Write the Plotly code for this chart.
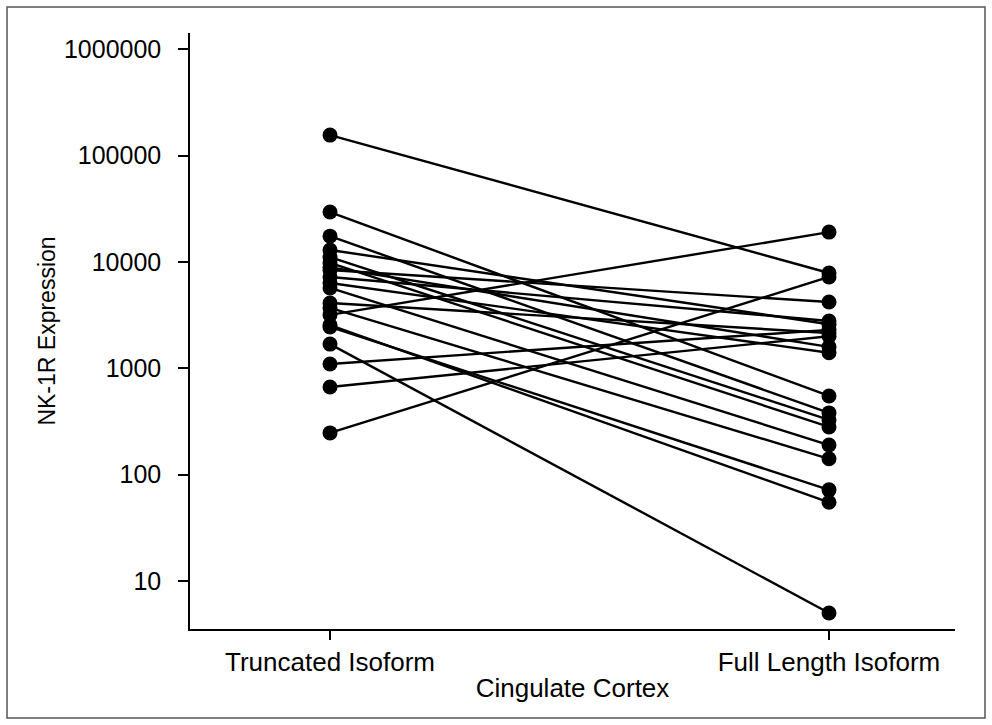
import plotly.graph_objects as go

categories = ["Truncated Isoform", "Full Length Isoform"]

truncated = [156000, 29500, 17500, 12970, 11100, 9800, 8410, 8900, 7230, 6350,
             5700, 4120, 3700, 3180, 2450, 2550, 1690, 1100, 668, 247]
full_length = [7880, 550, 381, 2600, 327, 281, 4200, 1590, 2790, 1400,
               190, 2150, 141, 19100, 72, 55, 5.0, 2300, 2000, 7230]

y_tickvals = [10, 100, 1000, 10000, 100000, 1000000]
y_ticktext = ["10", "100", "1000", "10000", "100000", "1000000"]

FONT = "Liberation Sans, Arial, sans-serif"

fig = go.Figure()
for a, b in zip(truncated, full_length):
    fig.add_trace(go.Scatter(
        x=categories, y=[a, b], mode="lines+markers",
        line=dict(color="black", width=2.4),
        marker=dict(color="black", size=15),
        showlegend=False, hoverinfo="y",
    ))

fig.update_layout(
    width=992, height=725,
    margin=dict(l=190, r=37, t=33, b=96),
    paper_bgcolor="white", plot_bgcolor="white",
    font=dict(family=FONT, color="black", size=25),
    xaxis=dict(
        type="category", range=[-0.2806, 1.2525],
        showline=True, linecolor="black", linewidth=1.5,
        ticks="outside", ticklen=9, tickwidth=1.5, tickcolor="black",
        showgrid=False, zeroline=False,
        tickfont=dict(size=26, family=FONT),
        title=dict(text="Cingulate Cortex", font=dict(size=26, family=FONT), standoff=3),
    ),
    yaxis=dict(
        type="log", range=[0.549, 6.153],
        tickvals=y_tickvals, ticktext=y_ticktext,
        showline=True, linecolor="black", linewidth=1.5,
        ticks="outside", ticklen=10, tickwidth=1.5, tickcolor="black",
        ticklabelstandoff=12,
        showgrid=False, zeroline=False,
        tickfont=dict(size=25, family=FONT),
        title=dict(text="NK-1R Expression", font=dict(size=23, family=FONT), standoff=2),
    ),
    shapes=[dict(
        type="rect", xref="paper", yref="paper",
        x0=-0.2392, x1=1.0392, y0=-0.1493, y1=1.0436,
        line=dict(color="#555555", width=1.5), fillcolor="rgba(0,0,0,0)",
        layer="below",
    )],
)

fig.write_html("out.html",
               config={"displayModeBar": False},
               post_script="document.body.style.margin='0';document.body.style.padding='0';")
